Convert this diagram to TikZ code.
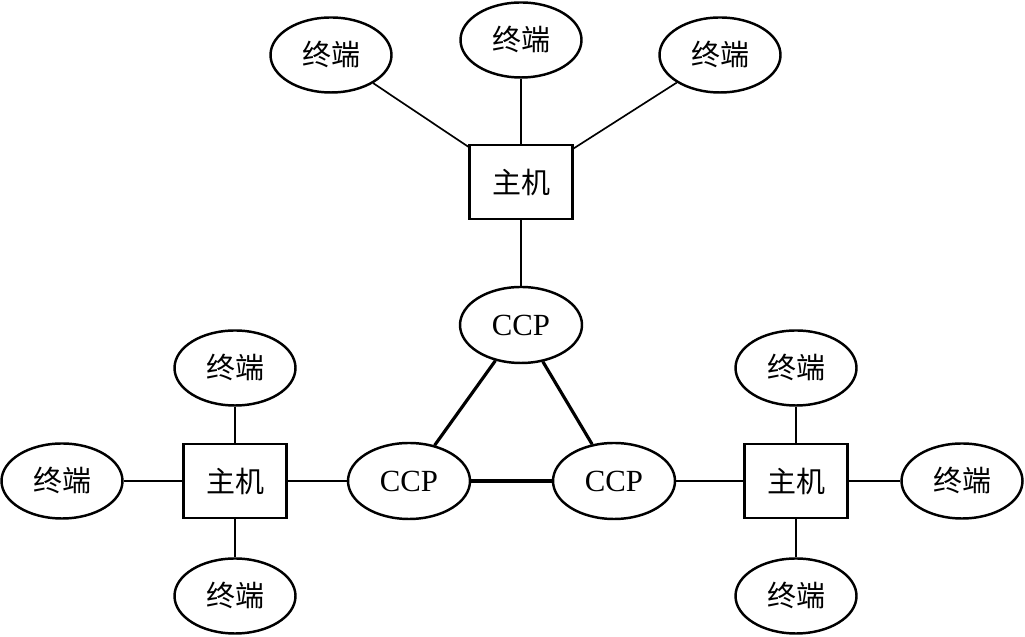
\documentclass[tikz,border=0pt]{standalone}
\usepackage{fontspec}
\setmainfont{Liberation Serif}
\newfontfamily\cjk{Noto Sans CJK SC}
\usetikzlibrary{shapes.geometric, positioning}

\tikzset{
   term/.style={ellipse, draw, line width=1.4pt, minimum width=2.42cm, minimum height=1.5cm, inner sep=0pt, font=\fontsize{16.5}{20}\selectfont\cjk},
   ccp/.style={ellipse, draw, line width=1.4pt, minimum width=2.44cm, minimum height=1.52cm, inner sep=0pt, font=\fontsize{17.5}{20}\selectfont},
   hostbox/.style={rectangle, draw, line width=1.4pt, minimum width=2.06cm, minimum height=1.48cm, inner sep=0pt, font=\fontsize{16.5}{20}\selectfont\cjk},
   link/.style={line width=0.95pt},
   trunk/.style={line width=1.8pt}
}

\begin{document}
\begin{tikzpicture}
            \useasboundingbox (0,0) rectangle (20.5,12.74);
            % Upper host with its terminals
            \node[hostbox] (hostT) at (10.42,9.10) {主机};
            \node[term] (termT1) at (6.62,11.64) {终端};
            \node[term] (termT2) at (10.42,11.94) {终端};
            \node[term] (termT3) at (14.40,11.64) {终端};
            % CCP ring
            \node[ccp] (ccpT) at (10.42,6.24) {CCP};
            \node[ccp] (ccpL) at (8.18,3.12) {CCP};
            \node[ccp] (ccpR) at (12.28,3.12) {CCP};
            % Left host with its terminals
            \node[hostbox] (hostL) at (4.70,3.12) {主机};
            \node[term] (termL1) at (4.70,5.38) {终端};
            \node[term] (termL2) at (1.24,3.12) {终端};
            \node[term] (termL3) at (4.70,0.82) {终端};
            % Right host with its terminals
            \node[hostbox] (hostR) at (15.92,3.12) {主机};
            \node[term] (termR1) at (15.92,5.38) {终端};
            \node[term] (termR2) at (19.24,3.12) {终端};
            \node[term] (termR3) at (15.92,0.82) {终端};
            % Terminal lines
            \foreach \t in {termT1, termT2, termT3} \draw[link] (\t) -- (hostT);
            \foreach \t in {termL1, termL2, termL3} \draw[link] (\t) -- (hostL);
            \foreach \t in {termR1, termR2, termR3} \draw[link] (\t) -- (hostR);
            % Hosts to CCPs
            \draw[link] (hostT) -- (ccpT);
            \draw[link] (hostL) -- (ccpL);
            \draw[link] (ccpR) -- (hostR);
            % Triangle between CCPs
            \draw[trunk] (ccpT) -- (ccpL);
            \draw[trunk] (ccpL) -- (ccpR);
            \draw[trunk] (ccpR) -- (ccpT);
         \end{tikzpicture}
\end{document}
